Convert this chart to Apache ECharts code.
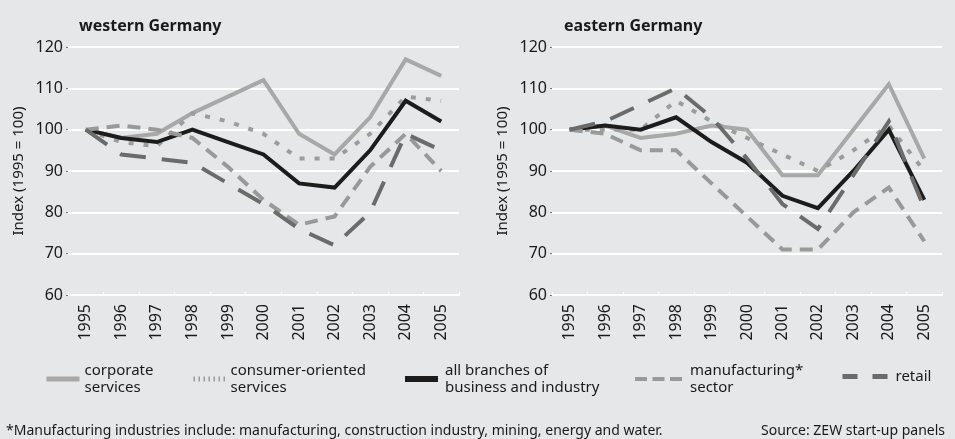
<!DOCTYPE html>
<html>
<head>
<meta charset="utf-8">
<script src="https://cdn.jsdelivr.net/npm/echarts@6/dist/echarts.min.js"></script>
<style>
  html, body { margin: 0; padding: 0; background: #e6e7e8; }
  #chart { width: 955px; height: 439px; }
</style>
</head>
<body>
<div id="chart"></div>
<script>
const years = ['1995', '1996', '1997', '1998', '1999', '2000', '2001', '2002', '2003', '2004', '2005'];

// western Germany
const westCorporate = [100, 98, 99, 104, 108, 112, 99, 94, 103, 117, 113];
const westConsumer = [100, 97, 96, 104, 102, 99, 93, 93, 99, 108, 107];
const westAll = [100, 98, 97, 100, 97, 94, 87, 86, 95, 107, 102];
const westManufacturing = [100, 101, 100, 98, 91, 83, 77, 79, 91, 99, 90];
const westRetail = [100, 94, 93, 92, 87, 82, 76, 72, 80, 99, 95];

// eastern Germany
const eastCorporate = [100, 101, 98, 99, 101, 100, 89, 89, 100, 111, 93];
const eastConsumer = [100, 100, 100, 107, 102, 98, 94, 90, 95, 101, 90];
const eastAll = [100, 101, 100, 103, 97, 92, 84, 81, 90, 100, 83];
const eastManufacturing = [100, 99, 95, 95, 87, 79, 71, 71, 80, 86, 73];
const eastRetail = [100, 102, 106, 110, 103, 93, 82, 76, 89, 102, 81];

const yTicks = { min: 60, max: 120, interval: 10 };

const names = ['corporate services', 'consumer-oriented services', 'all branches of business and industry', 'manufacturing* sector', 'retail'];
const legendLabels = ['corporate\nservices', 'consumer-oriented\nservices', 'all branches of\nbusiness and industry', 'manufacturing*\nsector', 'retail'];

const styles = [
  { color: '#a8a8a8', width: 4, type: 'solid' },
  { color: '#9c9c9c', width: 4, type: [5, 10] },
  { color: '#1c1c1c', width: 4, type: 'solid' },
  { color: '#999999', width: 4, type: [13, 8] },
  { color: '#6b6b6b', width: 4, type: [26, 16] }
];

// legend samples are drawn a bit differently from the lines
const legendIcons = [
  { left: 39, width: 33, line: { width: 5, type: 'solid' }, pad: 0 },
  { left: 186, width: 32, line: { width: 5, type: [1.5, 3.5] }, pad: 0 },
  { left: 397, width: 33, line: { width: 6, type: 'solid' }, pad: 2 },
  { left: 628, width: 47, line: { width: 4, type: [12, 5.5] }, pad: 3 },
  { left: 835, width: 45, line: { width: 5, type: [15, 15] }, pad: 3 }
];

const font = 'Noto Sans';
const textColor = '#1a1a1a';

function xAxis(gridIndex) {
  return {
    type: 'category',
    gridIndex: gridIndex,
    data: years,
    boundaryGap: true,
    axisLine: { lineStyle: { color: '#ffffff', width: 2 } },
    axisTick: { show: true, inside: true, length: 3, lineStyle: { color: '#ffffff', width: 1 } },
    axisLabel: { rotate: 90, fontSize: 16, color: textColor, fontFamily: font, margin: 9 }
  };
}

function yAxis(gridIndex) {
  return {
    type: 'value',
    gridIndex: gridIndex,
    min: yTicks.min,
    max: yTicks.max,
    interval: yTicks.interval,
    name: 'Index (1995 = 100)',
    nameLocation: 'middle',
    nameGap: 42,
    nameTextStyle: { fontSize: 15, color: textColor, fontFamily: font },
    axisLine: { show: false },
    axisTick: { show: true, length: 2, lineStyle: { color: '#777777', width: 1 } },
    axisLabel: { fontSize: 16, color: textColor, fontFamily: font, margin: 5 },
    splitLine: { lineStyle: { color: '#ffffff', width: 2 } }
  };
}

const westData = [westCorporate, westConsumer, westAll, westManufacturing, westRetail];
const eastData = [eastCorporate, eastConsumer, eastAll, eastManufacturing, eastRetail];

const series = [];
[westData, eastData].forEach(function (set, g) {
  set.forEach(function (values, i) {
    series.push({
      name: names[i],
      type: 'line',
      xAxisIndex: g,
      yAxisIndex: g,
      data: values,
      symbol: 'none',
      silent: true,
      animation: false,
      lineStyle: { color: styles[i].color, width: styles[i].width, type: styles[i].type, cap: 'butt', join: 'miter' },
      itemStyle: { color: styles[i].color }
    });
  });
});

const legends = names.map(function (n, i) {
  const ic = legendIcons[i];
  return {
    data: [n],
    left: ic.left,
    top: i === 4 ? 363 : 357,
    itemWidth: ic.width,
    itemHeight: 14,
    selectedMode: false,
    formatter: function () { return legendLabels[i]; },
    itemStyle: { opacity: 0 },
    lineStyle: { width: ic.line.width, type: ic.line.type, cap: 'butt' },
    textStyle: { fontSize: 15, lineHeight: 17, color: textColor, fontFamily: font, padding: [0, 0, 0, ic.pad] }
  };
});

const chart = echarts.init(document.getElementById('chart'));
chart.setOption({
  backgroundColor: '#e6e7e8',
  animation: false,
  title: [
    { text: 'western Germany', left: 74, top: 13, textStyle: { fontSize: 16, fontWeight: 'bold', color: textColor, fontFamily: font } },
    { text: 'eastern Germany', left: 559, top: 13, textStyle: { fontSize: 16, fontWeight: 'bold', color: textColor, fontFamily: font } },
    { text: '*Manufacturing industries include: manufacturing, construction industry, mining, energy and water.', left: 6, top: 424, padding: 0, textStyle: { fontSize: 14, fontWeight: 'normal', color: textColor, fontFamily: font } },
    { text: 'Source: ZEW start-up panels', right: 10, top: 424, padding: 0, textStyle: { fontSize: 14, fontWeight: 'normal', color: textColor, fontFamily: font } }
  ],
  legend: legends,
  grid: [
    { left: 68, top: 47, width: 391, height: 248 },
    { left: 552, top: 47, width: 390, height: 248 }
  ],
  xAxis: [xAxis(0), xAxis(1)],
  yAxis: [yAxis(0), yAxis(1)],
  series: series
});
</script>
</body>
</html>
